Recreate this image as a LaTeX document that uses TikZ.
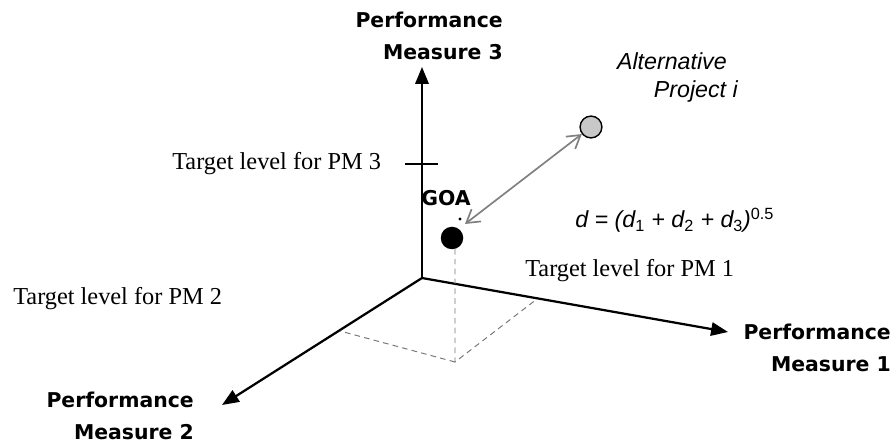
\documentclass[tikz,border=0pt]{standalone}
\usepackage{fontspec}
\usetikzlibrary{arrows.meta}
\setmainfont{Liberation Serif}
\newfontfamily\pmfont{DejaVu Sans}
\newfontfamily\altfont{Liberation Sans}
\definecolor{link}{RGB}{128,128,128}
\definecolor{altfill}{RGB}{200,200,200}
\definecolor{proj}{RGB}{120,120,120}

\begin{document}
\begin{tikzpicture}[x=0.025cm, y=-0.025cm, >={Triangle[length=12pt,width=9.5pt]},
    axis/.style={line width=1.6pt, ->},
    pmlabel/.style={inner sep=0pt, align=right, font=\pmfont\bfseries\fontsize{14.5}{22.8}\selectfont},
    target/.style={inner sep=0pt, anchor=west, font=\fontsize{17.3}{20}\selectfont},
    altlabel/.style={inner sep=0pt, font=\altfont\itshape\fontsize{16.5}{20}\selectfont}]
  \useasboundingbox (0,0) rectangle (895,445);

  % axes
  \coordinate (O) at (422,278);
  \coordinate (pm1tip) at (728,332);
  \coordinate (pm2tip) at (222,405);
  \coordinate (pm3tip) at (422,67);
  \draw[axis] (O) -- (pm1tip);
  \draw[axis] (O) -- (pm2tip);
  \draw[axis] (O) -- (pm3tip);
  \node[pmlabel, anchor=east] (pm3) at (503,36) {Performance\\Measure 3};
  \node[pmlabel, anchor=east] (pm1) at (891,348) {Performance\\Measure 1};
  \node[pmlabel, anchor=east] (pm2) at (194,416) {Performance\\Measure 2};

  % targets
  \draw[line width=0.8pt] (405,164) coordinate (tk1) -- (438,164) coordinate (tk2);
  \node[target] (t3) at (172,164) {Target level for PM 3};
  \node[target] (t1) at (525,271) {Target level for PM 1};
  \node[target] (t2) at (13,299) {Target level for PM 2};

  % goal and projections
  \node[circle, fill=black, minimum size=16pt, inner sep=0pt] (goa) at (452,238) {};
  \fill (460,219) circle (1.1pt);
  \node[pmlabel] (goalabel) at (446,198) {GOA};
  \coordinate (gfoot) at (455,362);
  \coordinate (on1) at (537,299);
  \coordinate (on2) at (340,331);
  \draw[proj, dashed, dash pattern=on 4pt off 3pt, line width=0.7pt] (455,249) -- (gfoot) -- (on1);
  \draw[proj, dashed, dash pattern=on 4pt off 3pt, line width=0.7pt] (gfoot) -- (on2);

  % alternative project
  \node[circle, draw, fill=altfill, line width=1pt, minimum size=15.5pt, inner sep=0pt] (alt) at (591,127) {};
  \node[altlabel, anchor=east] (alt1) at (727,61) {Alternative};
  \node[altlabel, anchor=east] (alt2) at (738,92) {Project \textit{i}};
  \draw[link, line width=1.2pt, {Straight Barb[length=9pt,width=11pt]}-{Straight Barb[length=9pt,width=11pt]}] (465,224) coordinate (a0) -- (alt);
  \node[altlabel, anchor=base west] (dist) at (575,228) {d = (d\textsubscript{\upshape 1} + d\textsubscript{\upshape 2} + d\textsubscript{\upshape 3})\textsuperscript{\upshape 0.5}};
\end{tikzpicture}
\end{document}
